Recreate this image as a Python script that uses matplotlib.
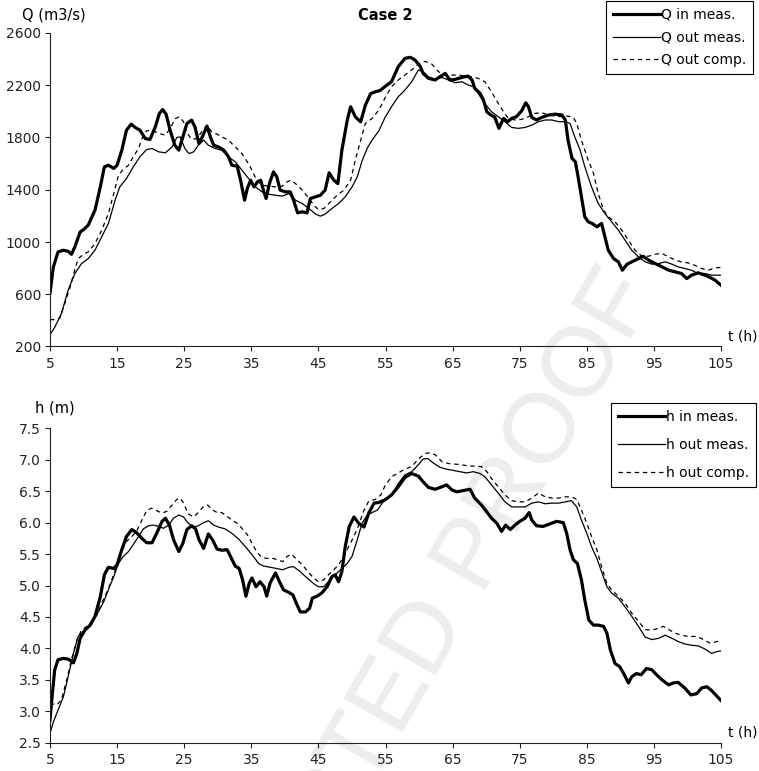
import matplotlib
matplotlib.use("Agg")
import matplotlib.pyplot as plt

# ---- discharge panel ----
q_in_t = [5, 5.5, 6.2, 7, 7.7, 8.2, 8.7, 9.5, 10, 10.7, 11.7, 12.5, 13.1, 13.7, 14.5, 15, 15.7, 16.4,
          17.1, 17.7, 18.4, 19.2, 19.9, 20.7, 21.3, 21.8, 22.3, 22.9, 23.6, 24.2, 24.8, 25.4, 26.1, 26.6,
          27.2, 27.7, 28.4, 28.9, 29.4, 30.1, 30.9, 31.6, 32.1, 32.9, 33.4, 34, 34.4, 34.9, 35.4, 35.9,
          36.4, 36.8, 37.2, 37.7, 38.3, 38.8, 39.3, 40.1, 40.8, 41.3, 41.9, 42.6, 43.3, 43.8, 44.6, 45.3,
          46, 46.6, 47.3, 47.9, 48.5, 49.3, 49.8, 50.5, 51.3, 52, 52.8, 53.5, 54.2, 54.9, 55.9, 56.9,
          57.9, 58.7, 59.4, 60.2, 60.6, 61.4, 62.4, 63.1, 63.9, 64.6, 65.4, 66.4, 67.3, 67.9, 68.3, 69.1,
          69.6, 70.1, 70.7, 71.3, 71.9, 72.6, 73.2, 73.8, 74.5, 75.3, 75.9, 76.3, 76.8, 77.5, 78.3, 79.3,
          80.3, 81.3, 81.8, 82.2, 82.8, 83.3, 83.7, 84.2, 84.7, 85.2, 85.8, 86.5, 87.2, 87.7, 88.2, 89,
          89.7, 90.3, 91, 91.7, 92.7, 93.4, 94.2, 95.2, 96.2, 97.2, 98.2, 99.1, 99.9, 100.6, 101.6, 102.6,
          103.4, 104.1, 105]
q_in = [610, 809, 924, 937, 929, 906, 963, 1077, 1095, 1129, 1243, 1422, 1575, 1588, 1563, 1588, 1703, 1856,
        1902, 1877, 1856, 1792, 1785, 1882, 1984, 2014, 1979, 1856, 1741, 1703, 1805, 1907, 1933, 1882,
        1754, 1805, 1887, 1805, 1741, 1728, 1703, 1652, 1588, 1580, 1473, 1320, 1409, 1473, 1422, 1460,
        1473, 1397, 1333, 1447, 1537, 1499, 1397, 1384, 1384, 1320, 1223, 1231, 1223, 1333, 1346, 1358,
        1397, 1530, 1473, 1447, 1703, 1933, 2035, 1958, 1920, 2048, 2137, 2150, 2160, 2189, 2227, 2342,
        2406, 2414, 2393, 2342, 2291, 2253, 2240, 2265, 2291, 2240, 2245, 2260, 2270, 2240, 2176, 2138,
        2087, 1997, 1972, 1954, 1870, 1946, 1921, 1946, 1959, 2005, 2066, 2036, 1954, 1934, 1954, 1972,
        1979, 1972, 1934, 1780, 1640, 1614, 1499, 1346, 1193, 1155, 1142, 1116, 1142, 1040, 937, 873,
        848, 784, 830, 848, 873, 891, 861, 835, 810, 784, 771, 759, 720, 746, 764, 746,
        728, 708, 669]

q_out_t = [5, 5.7, 6.7, 7.7, 8.7, 9.7, 10.7, 11.7, 12.7, 13.7, 14.7, 15.4, 16.4, 17.4, 18.4, 19.4, 20.2,
           21.2, 22.2, 23.2, 23.9, 24.4, 25.1, 25.7, 26.4, 27.1, 27.9, 28.6, 29.6, 30.6, 31.6, 32.6, 33.6,
           34.6, 35.6, 36.6, 37.6, 38.6, 39.6, 40.6, 41.6, 42.6, 43.6, 44.6, 45.3, 46, 47, 48, 49, 50,
           50.8, 51.5, 52.3, 53, 54, 54.9, 55.9, 56.9, 57.9, 58.9, 59.9, 60.6, 61.4, 62.4, 63.4, 64.4,
           65.4, 66.4, 67.3, 68.1, 68.8, 69.8, 70.8, 71.8, 72.8, 73.8, 74.8, 75.8, 76.8, 77.8, 78.8, 79.8,
           80.8, 81.8, 82.5, 83.2, 84, 84.7, 85.7, 86.7, 87.7, 88.7, 89.7, 90.7, 91.7, 92.7, 93.7, 94.7,
           95.7, 96.7, 97.7, 98.6, 99.6, 100.6, 101.6, 102.6, 103.6, 105]
q_out = [290, 347, 452, 631, 758, 835, 873, 937, 1039, 1141, 1320, 1422, 1486, 1575, 1652, 1708, 1716,
         1690, 1683, 1728, 1800, 1805, 1716, 1677, 1690, 1741, 1780, 1741, 1716, 1703, 1652, 1614, 1550,
         1486, 1422, 1384, 1366, 1358, 1351, 1371, 1320, 1294, 1256, 1213, 1198, 1213, 1256, 1294, 1346, 1420,
         1500, 1620, 1720, 1780, 1850, 1950, 2036, 2112, 2163, 2227, 2317, 2304, 2265, 2245, 2260, 2240,
         2219, 2227, 2202, 2189, 2138, 2061, 1997, 1959, 1921, 1877, 1870, 1877, 1895, 1921, 1934, 1934,
         1921, 1921, 1908, 1806, 1704, 1576, 1423, 1295, 1218, 1155, 1091, 1014, 937, 886, 848, 830,
         835, 848, 830, 810, 797, 784, 759, 759, 746, 746]

q_comp_t = [5, 6, 6.5, 7.2, 8, 8.6, 9.2, 10, 10.7, 11.7, 12.7, 13.7, 14.5, 15.2, 15.9, 16.7, 17.4, 18.2,
            18.8, 19.4, 20.2, 21.2, 22.2, 22.9, 23.7, 24.3, 24.9, 25.5, 26.1, 26.9, 27.6, 28.4, 29.1, 29.9,
            30.6, 31.6, 32.6, 33.6, 34.4, 35.1, 35.8, 36.6, 37.6, 38.6, 39.6, 40.3, 40.9, 41.6, 42.6, 43.6,
            44.3, 45, 45.8, 46.8, 47.8, 48.8, 49.8, 50.5, 51.3, 52, 53, 54, 54.9, 55.9, 56.9, 57.9, 58.9,
            59.9, 60.9, 61.9, 62.9, 63.9, 64.9, 65.9, 66.9, 67.8, 68.8, 69.8, 70.8, 71.8, 72.6, 73.3, 74.3,
            75.3, 76.3, 77.3, 78.3, 79.3, 80.3, 81.3, 82.2, 83, 83.5, 84.2, 85.2, 86, 86.7, 87.5, 88.2,
            89.2, 90.2, 91.2, 92.2, 93.2, 94.2, 95.2, 96.2, 97.2, 98.2, 99.1, 100.1, 101.1, 102.1, 103.1,
            104.1, 105]
q_comp = [406, 406, 420, 529, 656, 771, 873, 906, 924, 988, 1090, 1218, 1371, 1511, 1555, 1588, 1652, 1716,
          1805, 1851, 1856, 1831, 1818, 1869, 1946, 1958, 1920, 1831, 1785, 1792, 1843, 1894, 1843, 1826,
          1805, 1780, 1728, 1677, 1614, 1550, 1473, 1435, 1427, 1422, 1427, 1460, 1473, 1447, 1397, 1333,
          1282, 1249, 1256, 1307, 1358, 1397, 1473, 1626, 1780, 1907, 1946, 2009, 2100, 2189, 2240, 2278, 2317,
          2362, 2383, 2362, 2304, 2278, 2278, 2278, 2270, 2265, 2253, 2227, 2150, 2061, 1997, 1946, 1934,
          1939, 1959, 1985, 1990, 1972, 1964, 1959, 1964, 1954, 1908, 1780, 1627, 1525, 1372, 1244, 1193,
          1155, 1091, 1014, 937, 891, 891, 907, 912, 886, 861, 848, 840, 822, 797, 784,
          802, 805]

# ---- stage panel ----
h_in_t = [5, 5.35, 5.7, 6.2, 7, 7.7, 8.5, 9, 9.5, 10.2, 11, 11.7, 12.5, 13.1, 13.7, 14.5, 15, 15.7, 16.4,
          17.2, 17.9, 18.7, 19.4, 20.2, 20.9, 21.7, 22.2, 22.8, 23.4, 24.2, 24.8, 25.4, 26.1, 26.7, 27.2,
          27.9, 28.6, 29.2, 29.9, 30.6, 31.4, 31.9, 32.6, 33.2, 33.7, 34.2, 34.7, 35.1, 35.7, 36.3, 36.9,
          37.3, 37.8, 38.6, 39.2, 39.8, 40.6, 41.2, 41.7, 42.3, 43.1, 43.7, 44.1, 44.8, 45.5, 46.3, 47,
          47.5, 48, 48.5, 49, 49.6, 50.3, 51, 51.8, 52.5, 53.3, 54, 54.9, 55.9, 56.9, 57.9, 58.9, 59.9,
          60.6, 61.4, 62.4, 63.4, 64.1, 64.9, 65.6, 66.6, 67.6, 68.3, 69.3, 70.1, 70.8, 71.6, 72.3, 72.9,
          73.6, 74.3, 75, 75.8, 76.4, 76.8, 77.5, 78.5, 79.5, 80.5, 81.5, 82, 82.5, 83, 83.6, 84.2, 84.7,
          85.3, 86, 86.7, 87.5, 88, 88.5, 89.2, 89.9, 90.5, 91.2, 91.7, 92.4, 93.1, 93.9, 94.7, 95.4,
          96.2, 97.2, 97.9, 98.6, 99.6, 100.5, 101.4, 102.1, 102.9, 103.6, 104.4, 105]
h_in = [2.86, 3.28, 3.66, 3.82, 3.84, 3.83, 3.77, 3.92, 4.16, 4.29, 4.37, 4.51, 4.82, 5.17, 5.29, 5.27, 5.33,
        5.57, 5.78, 5.89, 5.84, 5.75, 5.68, 5.68, 5.83, 6.02, 6.07, 5.96, 5.73, 5.54, 5.67, 5.89, 5.95, 5.90,
        5.73, 5.59, 5.82, 5.73, 5.58, 5.56, 5.57, 5.46, 5.31, 5.27, 5.09, 4.83, 5.04, 5.12, 4.98, 5.06, 4.98,
        4.83, 5.04, 5.20, 5.06, 4.93, 4.89, 4.85, 4.72, 4.58, 4.58, 4.64, 4.80, 4.83, 4.88, 4.98, 5.14,
        5.17, 5.06, 5.22, 5.62, 5.94, 6.09, 5.99, 5.93, 6.15, 6.31, 6.32, 6.36, 6.44, 6.57, 6.72, 6.78, 6.74,
        6.65, 6.56, 6.53, 6.57, 6.60, 6.52, 6.49, 6.51, 6.53, 6.39, 6.28, 6.17, 6.07, 5.99, 5.86, 5.96,
        5.89, 5.96, 6.02, 6.07, 6.16, 6.04, 5.95, 5.94, 5.98, 6.02, 6.00, 5.83, 5.57, 5.41, 5.35, 5.09, 4.77,
        4.45, 4.37, 4.37, 4.35, 4.24, 3.98, 3.76, 3.71, 3.60, 3.45, 3.55, 3.60, 3.58, 3.68, 3.66, 3.58,
        3.50, 3.42, 3.45, 3.46, 3.37, 3.26, 3.28, 3.37, 3.39, 3.33, 3.24, 3.17]

h_out_t = [5, 5.5, 6.2, 7, 7.7, 8.5, 9.2, 10, 10.7, 11.5, 12.2, 13, 13.7, 14.5, 15.2, 15.9, 16.7, 17.4,
           18.2, 18.9, 19.7, 20.4, 21.2, 21.9, 22.7, 23.4, 24.2, 24.9, 25.6, 26.4, 27.1, 27.9, 28.6, 29.4,
           30.1, 31.1, 32.1, 33.1, 34.1, 35.1, 36.1, 36.8, 37.8, 38.8, 39.7, 40.6, 41.3, 42.3, 43.3, 44.3,
           45, 45.8, 46.5, 47.5, 48.5, 49.3, 50, 50.8, 51.5, 52.3, 53, 53.8, 54.9, 55.9, 56.9, 57.9, 58.9,
           59.9, 60.6, 61.3, 62.1, 63.1, 64.1, 65.1, 66.1, 67.1, 68.1, 69.1, 69.8, 70.8, 71.8, 72.8, 73.8,
           74.8, 75.8, 76.8, 77.8, 78.8, 79.8, 80.8, 81.8, 82.7, 83.5, 84.2, 85, 85.7, 86.5, 87.2, 88,
           88.7, 89.7, 90.7, 91.7, 92.7, 93.7, 94.7, 95.7, 96.7, 97.7, 98.6, 99.6, 100.6, 101.6, 102.6,
           103.6, 104.4, 105]
h_out = [2.65, 2.83, 3.02, 3.23, 3.55, 3.92, 4.19, 4.27, 4.35, 4.45, 4.58, 4.74, 4.93, 5.14, 5.35, 5.46, 5.54,
         5.65, 5.78, 5.90, 5.95, 5.96, 5.94, 5.91, 5.96, 6.07, 6.12, 6.09, 5.99, 5.93, 5.95, 6.00, 6.03, 5.96,
         5.93, 5.90, 5.83, 5.74, 5.62, 5.49, 5.35, 5.31, 5.29, 5.27, 5.25, 5.29, 5.30, 5.22, 5.12, 5.03,
         4.98, 4.98, 5.06, 5.17, 5.27, 5.35, 5.46, 5.73, 5.99, 6.12, 6.16, 6.20, 6.37, 6.44, 6.62, 6.76, 6.81,
         6.92, 7.01, 7.02, 6.95, 6.88, 6.85, 6.83, 6.81, 6.79, 6.81, 6.78, 6.73, 6.60, 6.47, 6.33, 6.25,
         6.25, 6.25, 6.31, 6.33, 6.30, 6.31, 6.31, 6.33, 6.35, 6.25, 6.04, 5.83, 5.62, 5.43, 5.22, 4.98,
         4.88, 4.80, 4.66, 4.51, 4.35, 4.18, 4.14, 4.16, 4.21, 4.16, 4.11, 4.07, 4.05, 4.04, 3.99,
         3.92, 3.95, 3.96]

h_comp_t = [5, 6, 6.7, 7.5, 8.2, 9, 9.7, 10.5, 11.2, 12, 12.7, 13.5, 14.2, 15, 15.7, 16.4, 17.2, 17.9,
            18.7, 19.4, 20.1, 20.9, 21.7, 22.4, 23.2, 23.9, 24.4, 24.9, 25.6, 26.4, 27.1, 27.9, 28.5, 29.1,
            29.9, 30.6, 31.4, 32.1, 32.9, 33.6, 34.4, 35.1, 35.8, 36.5, 37.3, 38.3, 39.1, 39.7, 40.3, 41,
            41.6, 42.6, 43.6, 44.3, 45, 45.8, 46.5, 47.3, 48, 48.8, 49.5, 50.3, 51, 51.8, 52.5, 53.5, 54.3,
            54.9, 55.9, 56.9, 57.9, 58.9, 59.9, 60.9, 61.6, 62.4, 63.4, 64.4, 65.4, 66.4, 67.3, 68.3, 69.3,
            70.1, 70.8, 71.8, 72.8, 73.8, 74.8, 75.8, 76.8, 77.8, 78.8, 79.8, 80.8, 81.8, 82.7, 83.5, 84.2,
            85, 85.7, 86.5, 87.2, 88, 88.7, 89.7, 90.7, 91.7, 92.7, 93.7, 94.7, 95.7, 96.4, 97.2, 98.2,
            99.1, 100.1, 101.4, 102.4, 103.4, 104.4, 105]
h_comp = [3.13, 3.10, 3.18, 3.50, 3.82, 4.13, 4.29, 4.35, 4.43, 4.53, 4.72, 4.90, 5.09, 5.33, 5.57, 5.70, 5.78,
          5.86, 6.04, 6.19, 6.23, 6.19, 6.15, 6.18, 6.28, 6.37, 6.39, 6.31, 6.14, 6.09, 6.16, 6.26, 6.28, 6.21,
          6.16, 6.16, 6.10, 6.04, 5.99, 5.91, 5.81, 5.67, 5.54, 5.45, 5.43, 5.43, 5.40, 5.38, 5.46, 5.50,
          5.43, 5.33, 5.20, 5.12, 5.06, 5.09, 5.17, 5.25, 5.33, 5.46, 5.62, 5.78, 5.96, 6.20, 6.34, 6.37, 6.44,
          6.58, 6.73, 6.79, 6.85, 6.89, 7.01, 7.10, 7.11, 7.08, 6.97, 6.94, 6.93, 6.92, 6.90, 6.90, 6.89,
          6.81, 6.70, 6.57, 6.44, 6.35, 6.33, 6.33, 6.39, 6.47, 6.41, 6.39, 6.39, 6.41, 6.41, 6.37, 6.20,
          5.99, 5.78, 5.57, 5.30, 5.03, 4.93, 4.83, 4.72, 4.56, 4.43, 4.30, 4.29, 4.32, 4.35, 4.30, 4.24,
          4.21, 4.19, 4.19, 4.14, 4.08, 4.11, 4.11]

x_ticks = [5, 15, 25, 35, 45, 55, 65, 75, 85, 95, 105]
q_ticks = [200, 600, 1000, 1400, 1800, 2200, 2600]
h_ticks = [2.5, 3.0, 3.5, 4.0, 4.5, 5.0, 5.5, 6.0, 6.5, 7.0, 7.5]

W, H = 759, 771
plt.rcParams["font.family"] = ["DejaVu Sans"]
fig = plt.figure(figsize=(W / 100, H / 100), dpi=100)


def fx(px):
    return px / W


def fy(py):
    return 1 - py / H


# faint diagonal watermark behind the axes
fig.text(fx(657), fy(292), "UNCORRECTED PROOF", family="Liberation Sans", fontsize=71,
         color="#ededed", rotation=60, rotation_mode="anchor", ha="right", va="baseline", zorder=-1)

ax1 = fig.add_axes([fx(50), fy(346.5), fx(721) - fx(50), fy(33) - fy(346.5)])
ax2 = fig.add_axes([fx(50), fy(742.7), fx(721) - fx(50), fy(428.3) - fy(742.7)])

thick = dict(color="black", lw=2.3)
thin = dict(color="black", lw=0.9)
dash = dict(color="black", lw=0.9, ls=(0, (3.5, 3)))

ax1.plot(q_in_t, q_in, label="Q in meas.", **thick)
ax1.plot(q_out_t, q_out, label="Q out meas.", **thin)
ax1.plot(q_comp_t, q_comp, label="Q out comp.", **dash)
ax1.set_ylim(200, 2600)
ax1.set_yticks(q_ticks)

ax2.plot(h_in_t, h_in, label="h in meas.", **thick)
ax2.plot(h_out_t, h_out, label="h out meas.", **thin)
ax2.plot(h_comp_t, h_comp, label="h out comp.", **dash)
ax2.set_ylim(2.5, 7.5)
ax2.set_yticks(h_ticks)
ax2.set_yticklabels([f"{v:.1f}" for v in h_ticks])

for ax in (ax1, ax2):
    ax.set_facecolor("none")
    ax.set_xlim(5, 105)
    ax.set_xticks(x_ticks)
    for s in ("top", "right"):
        ax.spines[s].set_visible(False)
    for s in ("left", "bottom"):
        ax.spines[s].set_linewidth(0.8)
        ax.spines[s].set_color("#222222")
    ax.tick_params(direction="out", length=3.5, width=0.8, labelsize=10, colors="#222222")
    ax.tick_params(axis="x", pad=4)
    ax.tick_params(axis="y", pad=3)

leg_kw = dict(loc="upper right", bbox_transform=fig.transFigure, borderaxespad=0, frameon=True,
              fancybox=False, framealpha=1, edgecolor="black", fontsize=10, handlelength=3.4,
              handletextpad=0.05, borderpad=0.5)
l1 = ax1.legend(bbox_to_anchor=(fx(753), fy(1)), labelspacing=0.62, **leg_kw)
l2 = ax2.legend(bbox_to_anchor=(fx(756), fy(403)), labelspacing=1.0, **leg_kw)
for lg in (l1, l2):
    lg.get_frame().set_linewidth(0.8)

fig.text(fx(385), fy(15), "Case 2", fontsize=10.5, fontweight="bold", ha="center", va="center")
fig.text(fx(54), fy(15), "Q (m3/s)", fontsize=10.5, ha="center", va="center")
fig.text(fx(55), fy(408), "h (m)", fontsize=10.5, ha="center", va="center")
fig.text(fx(743), fy(337), "t (h)", fontsize=10, ha="center", va="center")
fig.text(fx(743), fy(732), "t (h)", fontsize=10, ha="center", va="center")

fig.savefig("out.png", dpi=100)
